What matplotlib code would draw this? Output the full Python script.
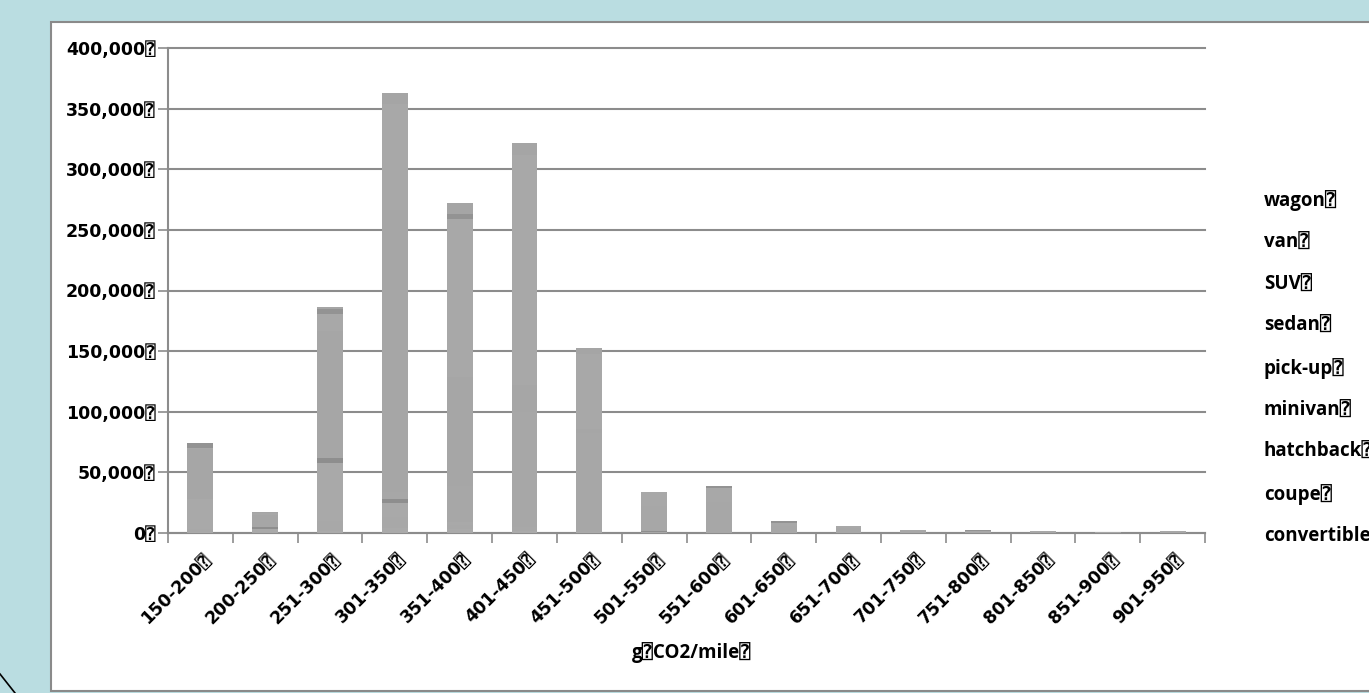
import numpy as np
import matplotlib
matplotlib.use("Agg")
import matplotlib.pyplot as plt
import matplotlib.transforms as mtransforms
from matplotlib.patches import Rectangle
from matplotlib.lines import Line2D

plt.rcParams['font.family'] = ['DejaVu Sans', 'DejaVu Sans Mono']
plt.rcParams['font.weight'] = 'bold'
LABEL_FONT = ['Open Sans', 'DejaVu Sans', 'DejaVu Sans Mono']

BOX = '\u2370'

# emission bands (g CO2 / mile)
bands = ['150-200', '200-250', '251-300', '301-350', '351-400', '401-450',
         '451-500', '501-550', '551-600', '601-650', '651-700', '701-750',
         '751-800', '801-850', '851-900', '901-950']

# vehicles per band, by body type (stacked bottom to top)
convertible = [500, 300, 2000, 4000, 3000, 2000, 1000, 200, 100, 0, 0, 0, 0, 0, 0, 0]
coupe = [2500, 700, 8000, 9000, 4000, 3000, 1500, 300, 200, 0, 0, 0, 0, 0, 0, 0]
hatchback = [25000, 2000, 48000, 12000, 2000, 0, 0, 0, 0, 0, 0, 0, 0, 0, 0, 0]
minivan = [0, 1800, 3500, 3000, 0, 0, 0, 1500, 0, 0, 0, 0, 0, 0, 0, 0]
pickup = [0, 0, 500, 6000, 30000, 95000, 80000, 20000, 25000, 6000, 4500, 2000, 1700, 1200, 700, 1000]
sedan = [41000, 10000, 105000, 232000, 90000, 22000, 3000, 500, 200, 0, 0, 0, 0, 0, 0, 0]
suv = [1000, 1500, 14000, 88000, 130000, 190000, 62000, 11000, 12000, 2500, 1000, 400, 300, 300, 200, 300]
van = [4000, 0, 4000, 0, 4000, 0, 0, 0, 1000, 1000, 500, 200, 200, 100, 0, 0]
wagon = [0, 1200, 1500, 9000, 9500, 10000, 5000, 500, 500, 0, 0, 0, 0, 0, 0, 0]

series = [('convertible', convertible, '#aaaaaa'),
          ('coupe', coupe, '#a8a8a8'),
          ('hatchback', hatchback, '#a9a9a9'),
          ('minivan', minivan, '#8e8e8e'),
          ('pick-up', pickup, '#a7a7a7'),
          ('sedan', sedan, '#a6a6a6'),
          ('SUV', suv, '#a8a8a8'),
          ('van', van, '#939393'),
          ('wagon', wagon, '#a5a5a5')]

W, H = 1369, 693
fig = plt.figure(figsize=(W / 100, H / 100), dpi=100)
fig.patch.set_facecolor('#badde1')

# white chart panel and corner line
fig.add_artist(Rectangle((51 / W, 2 / H), 1.0, (691 - 22) / H, transform=fig.transFigure,
                         facecolor='white', edgecolor='#8a8a8a', linewidth=1.5, zorder=0))
fig.add_artist(Line2D([0, 15 / W], [1 - 674 / H, 0], transform=fig.transFigure,
                      color='black', linewidth=1.2))

ax = fig.add_axes([168 / W, (H - 533) / H, (1205 - 168) / W, (533 - 48) / H])
ax.set_facecolor('none')

x = np.arange(len(bands))
bottom = np.zeros(len(bands))
handles = []
for name, vals, col in series:
    b = ax.bar(x, vals, width=0.4, bottom=bottom, color=col, linewidth=0, zorder=3, label=name + BOX)
    handles.append(b)
    bottom += np.array(vals)

ax.set_xlim(-0.5, len(bands) - 0.5)
ax.set_ylim(0, 400000)
ax.set_yticks(np.arange(0, 400001, 50000))
ax.set_yticklabels([f'{v:,}{BOX}' for v in range(0, 400001, 50000)], fontsize=12.5, fontweight='bold')
ax.yaxis.grid(True, color='#8c8c8c', linewidth=1.5, zorder=1)
for gl in ax.get_ygridlines():
    gl.set_clip_on(False)
ax.tick_params(axis='y', length=7, width=1.2, color='#8c8c8c', pad=2)

ax.set_xticks(np.arange(-0.5, len(bands)), minor=False)
ax.set_xticklabels([])
ax.set_xticks(x, minor=True)
ax.set_xticklabels([b + BOX for b in bands], minor=True, rotation=45, ha='right',
                   va='center', rotation_mode='anchor', fontsize=12.5, fontweight='bold')
ax.tick_params(axis='x', which='major', length=7, width=1.2, color='#8c8c8c')
ax.tick_params(axis='x', which='minor', length=0, pad=17)
shift = mtransforms.ScaledTranslation(8 / 100, 0, fig.dpi_scale_trans)
for lab in ax.get_xticklabels(minor=True):
    lab.set_transform(lab.get_transform() + shift)

for s in ['top', 'right']:
    ax.spines[s].set_visible(False)
for s in ['left', 'bottom']:
    ax.spines[s].set_color('#8c8c8c')
    ax.spines[s].set_linewidth(1.5)

fig.text(692 / W, 1 - 653 / H, 'g' + BOX + 'CO2/mile' + BOX, ha='center', va='center',
         fontsize=13.5, fontweight='bold', family=LABEL_FONT)

leg = fig.legend(handles[::-1], [h.get_label() for h in handles[::-1]],
                 loc='upper left', bbox_to_anchor=(1247 / W, 1 - 173 / H),
                 frameon=False, handlelength=0, handletextpad=0, labelspacing=1.16,
                 prop={'size': 13.5, 'weight': 'bold', 'family': LABEL_FONT})
for h in leg.legend_handles:
    h.set_visible(False)

fig.savefig('out.png', dpi=100, facecolor=fig.get_facecolor())
